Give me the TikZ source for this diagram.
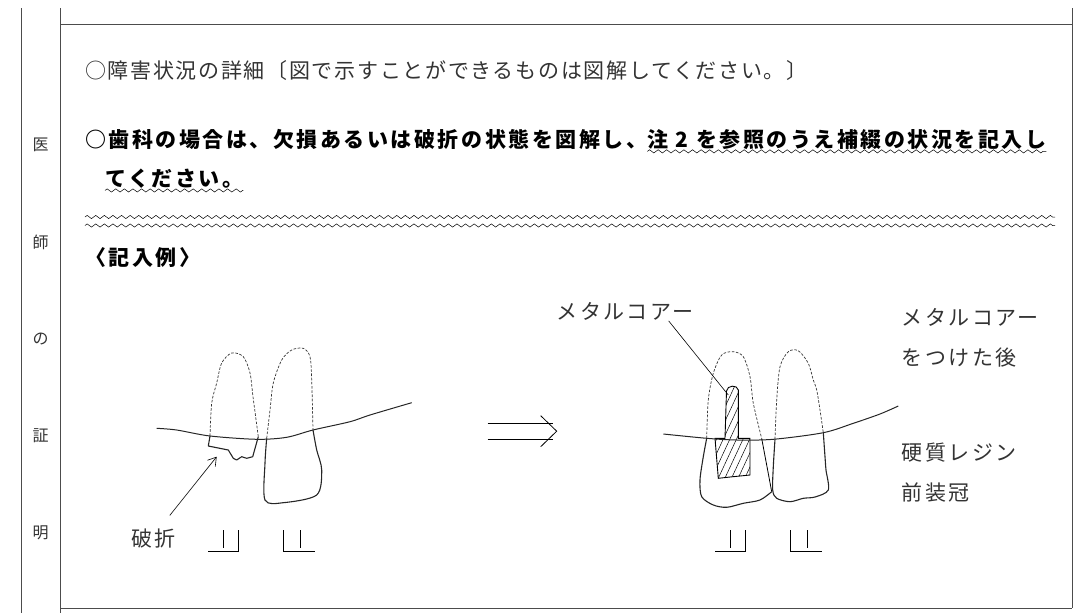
\documentclass[tikz,border=0pt]{standalone}
\usepackage{fontspec}
\setmainfont{Noto Sans CJK JP}
\usetikzlibrary{decorations.pathmorphing,patterns.meta,arrows.meta,positioning}
\tikzset{
  >={Straight Barb[length=8pt,width=10pt]},
  frame/.style={line width=1pt,black!70},
  wave/.style={decorate,decoration={zigzag,segment length=8.6pt,amplitude=1.6pt},line width=0.5pt},
  gum/.style={line width=1pt,black!85},
  root/.style={dash pattern=on 2.6pt off 1.6pt,line width=0.7pt,black!80},
  crown/.style={line width=1.1pt,black!85},
  core/.style={line width=0.9pt,pattern={Lines[angle=65,distance=6pt,line width=0.5pt]}},
  side/.style={font=\fontsize{16}{18}\selectfont,text=black!80,inner sep=0pt},
  body/.style={font=\addfontfeature{LetterSpace=8}\fontsize{21}{26}\selectfont,inner sep=0pt},
  bold/.style={font=\addfontfeature{LetterSpace=12}\fontsize{21}{26}\selectfont\bfseries,inner sep=0pt},
  lbl/.style={font=\addfontfeature{LetterSpace=12}\fontsize{21}{40}\selectfont,text=black!80,inner sep=0pt,align=left}
}
\begin{document}
\begin{tikzpicture}[x=1pt,y=-1pt]
      \useasboundingbox (0,0) rectangle (1085,613);
      \draw[frame] (21,8)--(21,613) (60,8)--(60,613) (1072,8)--(1072,608);
      \draw[frame] (60,24)--(1072,24) (60,608)--(1072,608);
      \foreach \c [count=\i] in {医,師,の,証,明}
      \node[side] (side\i) at (40.5,48+97*\i) {\c};
      \node[body,anchor=west,text=black!80] (detail) at (85,70.5)
      {○障害状況の詳細〔図で示すことができるものは図解してください。〕};
      \node[bold,anchor=west] (dentA) at (85,139.5)
      {○歯科の場合は、欠損あるいは破折の状態を図解し、};
      \node[bold,base right=0pt of dentA] (dentB)
      {注 2 を参照のうえ補綴の状況を記入し};
      \node[bold,anchor=west] (dentC) at (105,179) {てください。};
      \draw[wave] ([yshift=-1.5pt]dentB.south west)--([yshift=-1.5pt]dentB.south east);
      \draw[wave] ([yshift=-1.5pt]dentC.south west)--([yshift=-1.5pt]dentC.south east);
      \foreach \y in {217,225.5} \draw[wave] (85,\y)--(1055,\y);
      \node[bold,anchor=west] (example) at (85,258) {〈記入例〉};
      % before
      \draw[gum] plot[smooth] coordinates {(156.7,428.3) (176.7,430) (210,436) (256.7,439.3)
        (286.7,437.3) (313,430) (350,421.7) (370,415) (411.7,402.7)};
      \draw[root] plot[smooth] coordinates {(210,436) (211.7,403) (216.7,383) (221.7,363)
        (231.7,353) (243.3,356.7) (250,373) (253,396.7) (258.3,436.7)};
      \draw[crown,line join=round] (210,436)--(208.3,446)--(228.3,450)--(233.3,458.3)--(236.7,460)
        --(241.7,456.7)--(246.7,458.3)--(252.7,456.7)--(258.3,436.7);
      \draw[root] plot[smooth] coordinates {(266.7,438.3) (270,410) (273.3,383) (281.7,360)
        (291.7,350) (303.3,348.3) (310,356.7) (311.7,380) (313,430)};
      \draw[crown] plot[smooth] coordinates {(266.7,438.3) (265,463) (265,500) (283.3,502.7)
        (316.7,495) (321.7,470) (316.7,450) (313,430)};
      \node[lbl] (break) at (153.3,538.3) {破折};
      \coordinate (breakTip) at (216.7,456.7);
      \draw[->,line width=0.6pt] ([xshift=-6pt,yshift=13pt]break.north east)--(breakTip);
      % arrow
      \draw[line width=0.8pt] (487.7,423.3)--(553,423.3) (487.7,439)--(553,439);
      \draw[line width=0.8pt] (540.7,415.7)--(556.7,431.2)--(540.7,446.7);
      % after
      \draw[core] (715,438.3)--(725,438.3)--(726.5,391) .. controls (727,385) and (737.5,384.5) .. (738.3,390)
        --(738.3,438.3)--(750,438.3)--(750,475)--(733,476.7)--(718.3,478.3)--cycle;
      \draw[gum] plot[smooth] coordinates {(663.3,434) (706.7,438.3) (736.7,440) (773.3,439.3)
        (823.3,432.7) (853.3,423.3) (880,414) (898.3,406)};
      \draw[root] plot[smooth] coordinates {(706.7,438.3) (708.3,400) (713.3,373.3) (721.7,355)
        (733.3,351.7) (743.3,356.7) (750,376.7) (753.3,403.3) (761.7,438.5)};
      \draw[crown] plot[smooth] coordinates {(706.7,438.3) (703.3,456.7) (700,480) (701.7,496.7)
        (713.3,505) (726.7,507.3) (743.3,503.3) (760,500) (771.7,491.7)};
      \draw[line width=0.8pt] (761.7,438.5)--(771.7,491.7);
      \draw[root] plot[smooth] coordinates {(775,439.3) (776.7,400) (780,366.7) (788.3,351.7)
        (798.3,350.7) (808.3,363.3) (813.3,380) (816.7,390) (820,410) (823.3,432.7)};
      \draw[crown] plot[smooth] coordinates {(775,439.3) (773.3,466.7) (772.7,490) (776.7,498.3)
        (790,501.7) (803.3,498.3) (815,497) (828.3,490) (826,470) (825,456.7) (823.3,432.7)};
      \node[lbl] (mcore) at (625,311.7) {メタルコアー};
      \coordinate (postTip) at (728.3,395);
      \draw[line width=0.6pt] ([xshift=-25pt]mcore.south east)--(postTip);
      \node[lbl,anchor=west] (coreNote) at (901.7,338.3) {メタルコアー\\をつけた後};
      \node[lbl,anchor=west] (crownNote) at (901.7,472.5) {硬質レジン\\前装冠};
      % tooth numbers
      \foreach \dx in {0,507} {
        \draw[line width=0.8pt] (208.3+\dx,551.7) -| (238.3+\dx,530);
        \draw[line width=0.8pt] (223.3+\dx,530)--(223.3+\dx,548);
        \draw[line width=0.8pt] (283.3+\dx,530) |- (315+\dx,551.7);
        \draw[line width=0.8pt] (300+\dx,530)--(300+\dx,548);
      }
    \end{tikzpicture}
\end{document}
